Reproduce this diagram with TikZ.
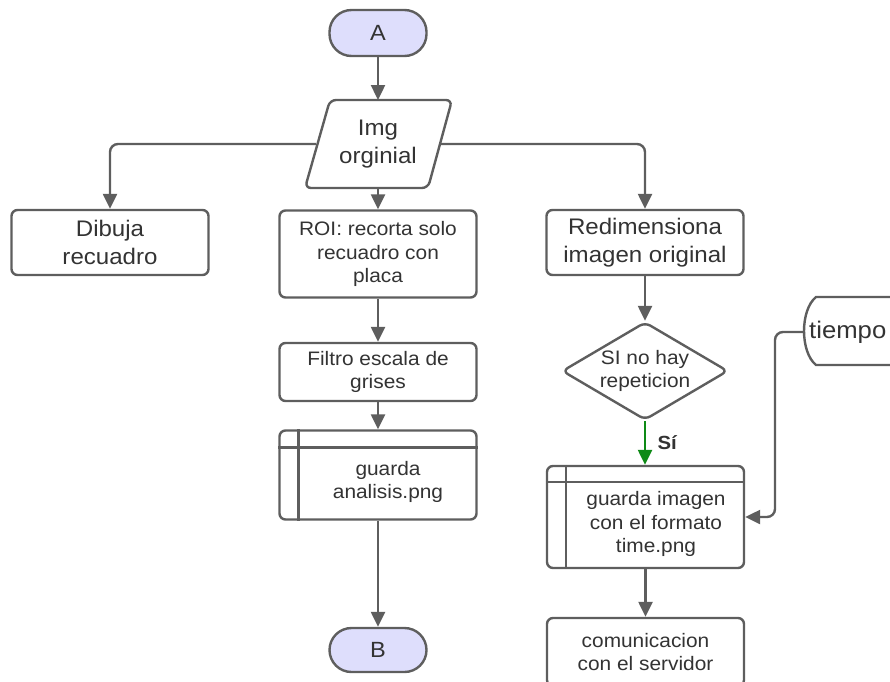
\documentclass[tikz,border=0pt]{standalone}
\usepackage{fontspec}
\setmainfont{Liberation Sans}[FakeStretch=1.07]
\usetikzlibrary{arrows.meta,shapes.geometric,calc}
\definecolor{ln}{HTML}{5E5E5E}
\definecolor{tx}{HTML}{333333}
\definecolor{lav}{HTML}{DEDEFC}
\definecolor{gr}{HTML}{0E8A16}
\begin{document}
\begin{tikzpicture}[x=1pt,y=-1pt,
  every node/.style={text=tx},
  base/.style={draw=ln,line width=2.4pt,fill=white,rounded corners=6pt,inner sep=0pt,align=center},
  proc/.style={base,minimum width=197pt},
  term/.style={base,fill=lav,rounded corners=22pt,minimum width=97pt,minimum height=46pt,font=\fontsize{22}{26}\selectfont},
  big/.style={font=\fontsize{22.5}{28}\selectfont},
  small/.style={font=\fontsize{19.5}{23.5}\selectfont},
  conn/.style={draw=ln,line width=2.4pt,rounded corners=8pt,-{Triangle[length=15pt,width=14pt]}},
  plain/.style={draw=ln,line width=2.4pt,rounded corners=8pt}
]
\useasboundingbox (0,0) rectangle (890,681);

% terminators
\node[term] (A) at (378,33) {A};
\node[term,minimum height=44pt] (B) at (378,650) {B};

% input parallelogram
\draw[ln,line width=2.4pt,fill=white,rounded corners=6pt] (330,100) -- (452,100) -- (428,188) -- (305,188) -- cycle;
\node[big,align=center,minimum width=124pt] (img) at (378,144) {Img\\orginial};

% process boxes
\node[proc,big,minimum height=65pt] (dib) at (110,242.5) {Dibuja\\recuadro};
\node[proc,small,minimum height=87pt] (roi) at (378,254) {ROI: recorta solo\\recuadro con\\placa};
\node[proc,big,minimum height=65pt] (red) at (645,242.5) {Redimensiona\\imagen original};
\node[proc,small,minimum height=58pt] (fil) at (378,372) {Filtro escala de\\grises};

% subroutine boxes
\node[proc,minimum height=89pt] (gan) at (378,475) {};
\draw[ln,line width=2.4pt] ($(gan.north west)+(0,18)$) -- ($(gan.north east)+(0,18)$);
\draw[ln,line width=2.4pt] ($(gan.north west)+(20,0)$) -- ($(gan.south west)+(20,0)$);
\node[small,align=center] (gantext) at (388,482) {guarda\\analisis.png};

\node[proc,minimum height=102pt] (gim) at (645.5,517) {};
\draw[ln,line width=2.4pt] ($(gim.north west)+(0,17)$) -- ($(gim.north east)+(0,17)$);
\draw[ln,line width=2.4pt] ($(gim.north west)+(20,0)$) -- ($(gim.south west)+(20,0)$);
\node[small,align=center] (gimtext) at (656,524) {guarda imagen\\con el formato\\time.png};

\node[proc,small,minimum height=68pt] (com) at (645.5,652) {comunicacion\\con el servidor};

% decision
\node[base,shape=diamond,aspect=1.7,minimum width=166pt,minimum height=98pt,small] (dia) at (645,371) {SI no hay\\repeticion};

% stored data (tiempo)
\draw[ln,line width=2.4pt,fill=white] (900,297) -- (816,297) .. controls (800,310) and (800,352) .. (816,365) -- (900,365);
\node[anchor=west,inner sep=0pt,font=\fontsize{24}{28}\selectfont] (tie) at (809,332) {tiempo};
\coordinate (tieL) at (804,332);

% connectors
\draw[conn] (A.south) -- (img.north |- 0,100);
\draw[conn] (378,188) -- (roi.north);
\draw[conn] (img.west) -| (dib.north);
\draw[conn] (img.east) -| (red.north);
\draw[conn] (roi.south) -- (fil.north);
\draw[conn] (fil.south) -- (gan.north);
\draw[conn] (gan.south) -- (B.north);
\draw[conn] (red.south) -- (dia.north);
\draw[conn,draw=gr,-{Triangle[length=15pt,width=14pt,fill=gr]}] (dia.south) -- (dia.south |- gim.north)
  node[midway,right=8pt,font=\fontsize{19}{22}\selectfont\bfseries,text=tx] {Sí};
\draw[conn] (gim.south) -- (com.north);
\draw[conn] (tieL) -- (775,332) -- (775,517) -- (gim.east);
\end{tikzpicture}
\end{document}
